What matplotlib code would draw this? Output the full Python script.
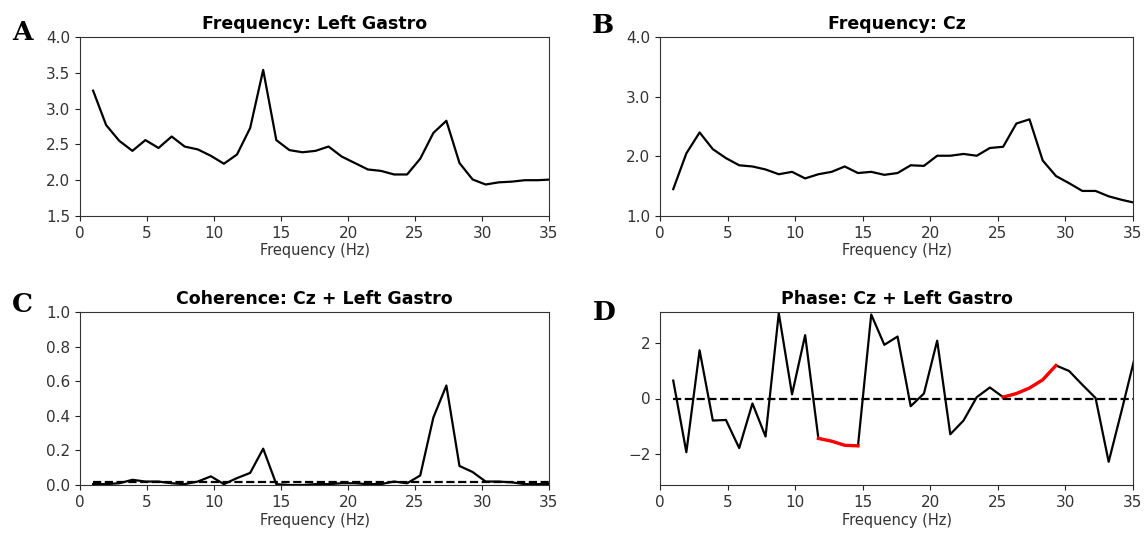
import matplotlib
matplotlib.use("Agg")
import matplotlib.pyplot as plt
from matplotlib.ticker import FormatStrFormatter
import numpy as np

freqs = [0.98, 1.95, 2.93, 3.91, 4.88, 5.86, 6.84, 7.81, 8.79, 9.77,
         10.74, 11.72, 12.70, 13.67, 14.65, 15.63, 16.60, 17.58, 18.55, 19.53,
         20.51, 21.48, 22.46, 23.44, 24.41, 25.39, 26.37, 27.34, 28.32, 29.30,
         30.27, 31.25, 32.23, 33.20, 34.18, 35.16]

power_gastro = [3.25, 2.77, 2.55, 2.41, 2.56, 2.45, 2.61, 2.47, 2.43, 2.34,
                2.23, 2.36, 2.73, 3.54, 2.56, 2.42, 2.39, 2.41, 2.47, 2.33,
                2.24, 2.15, 2.13, 2.08, 2.08, 2.30, 2.66, 2.83, 2.24, 2.01,
                1.94, 1.97, 1.98, 2.00, 2.00, 2.01]

power_cz = [1.45, 2.05, 2.40, 2.12, 1.97, 1.85, 1.83, 1.78, 1.70, 1.74,
            1.63, 1.70, 1.74, 1.83, 1.72, 1.74, 1.69, 1.72, 1.85, 1.84,
            2.01, 2.01, 2.04, 2.01, 2.14, 2.16, 2.55, 2.62, 1.93, 1.67,
            1.55, 1.42, 1.42, 1.33, 1.27, 1.22]

coherence = [0.005, 0.005, 0.01, 0.03, 0.02, 0.02, 0.01, 0.005, 0.02, 0.05,
             0.005, 0.04, 0.07, 0.21, 0.005, 0.0, 0.0, 0.005, 0.005, 0.01,
             0.01, 0.005, 0.005, 0.02, 0.01, 0.055, 0.39, 0.575, 0.11, 0.075,
             0.02, 0.02, 0.015, 0.005, 0.005, 0.005]
coh_threshold = 0.018

phase = [0.65, -1.95, 1.75, -0.8, -0.78, -1.8, -0.18, -1.38, 3.1, 0.15,
         2.3, -1.45, -1.55, -1.7, -1.72, 3.05, 1.95, 2.25, -0.28, 0.18,
         2.1, -1.3, -0.8, 0.05, 0.4, 0.05, 0.18, 0.38, 0.68, 1.2,
         1.0, 0.5, 0.02, -2.3, -0.4, 1.55]
# index ranges (inclusive) where coherence is significant -> drawn red
sig_ranges = [(11, 14), (25, 29)]

fig = plt.figure(figsize=(11.46, 5.35), dpi=100)
W, H = 1146, 535

def add_ax(l, t, r, b):
    return fig.add_axes([l / W, 1 - b / H, (r - l) / W, (b - t) / H])

axA = add_ax(80, 37, 549, 216)
axB = add_ax(660, 37, 1133, 216)
axC = add_ax(80, 312, 549, 485)
axD = add_ax(660, 312, 1133, 485)

title_kw = dict(fontsize=12.5, fontweight='bold')
for ax in (axA, axB, axC, axD):
    ax.set_xlim(0, 35)
    ax.set_xticks(range(0, 36, 5))
    ax.tick_params(labelsize=11, colors='#222222', labelcolor='#333333')
    ax.set_xlabel('Frequency (Hz)', fontsize=10.5, color='#333333', labelpad=2)
    for s in ax.spines.values():
        s.set_color('#333333')

axA.plot(freqs, power_gastro, color='black', lw=1.6)
axA.set_ylim(1.5, 4.0)
axA.set_yticks([1.5, 2.0, 2.5, 3.0, 3.5, 4.0])
axA.set_title('Frequency: Left Gastro', **title_kw)

axB.plot(freqs, power_cz, color='black', lw=1.6)
axB.set_ylim(1.0, 4.0)
axB.set_yticks([1.0, 2.0, 3.0, 4.0])
axB.yaxis.set_major_formatter(FormatStrFormatter('%.1f'))
axB.set_title('Frequency: Cz', **title_kw)

axC.plot(freqs, coherence, color='black', lw=1.6)
axC.plot([freqs[0], 35], [coh_threshold, coh_threshold], color='black', lw=1.6, ls='--')
axC.set_ylim(0, 1.0)
axC.set_yticks([0.0, 0.2, 0.4, 0.6, 0.8, 1.0])
axC.set_title('Coherence: Cz + Left Gastro', **title_kw)

axD.plot(freqs, phase, color='black', lw=1.6)
for i0, i1 in sig_ranges:
    axD.plot(freqs[i0:i1 + 1], phase[i0:i1 + 1], color='red', lw=2.4)
axD.plot([freqs[0], 35], [0, 0], color='black', lw=1.6, ls='--')
axD.set_ylim(-np.pi, np.pi)
axD.set_yticks([-2, 0, 2])
axD.set_title('Phase: Cz + Left Gastro', **title_kw)

letter_kw = dict(fontsize=19, fontweight='bold', family='DejaVu Serif')
fig.text(12 / W, 1 - 40 / H, 'A', **letter_kw)
fig.text(592 / W, 1 - 33 / H, 'B', **letter_kw)
fig.text(12 / W, 1 - 312 / H, 'C', **letter_kw)
fig.text(593 / W, 1 - 320 / H, 'D', **letter_kw)

fig.savefig('out.png', dpi=100)
